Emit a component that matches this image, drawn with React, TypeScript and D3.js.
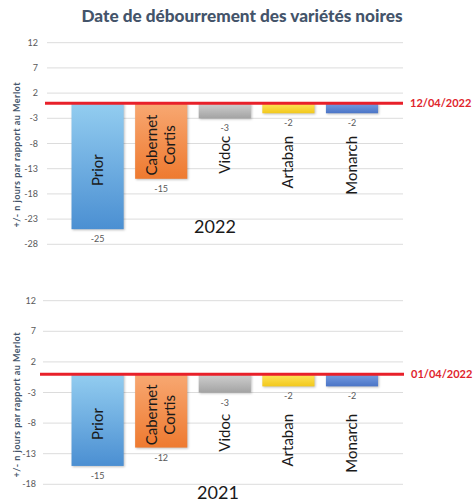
import React from "react";
import * as d3 from "d3";

const title = "Date de débourrement des variétés noires";
const yAxisTitle = "+/- n jours par rapport au Merlot";
const categories = ["Prior", "Cabernet Cortis", "Vidoc", "Artaban", "Monarch"];
const values2022 = [-25, -15, -3, -2, -2];
const values2021 = [-15, -12, -3, -2, -2];
const ticks2022 = [12, 7, 2, -3, -8, -13, -18, -23, -28];
const ticks2021 = [12, 7, 2, -3, -8, -13, -18];
const refDate2022 = "12/04/2022";
const refDate2021 = "01/04/2022";
const year2022 = "2022";
const year2021 = "2021";

const barColors = [
  ["#93cdf0", "#4b8fd2"],
  ["#f8a872", "#ee7a30"],
  ["#d0d0d0", "#a3a3a3"],
  ["#ffe55a", "#f2c81c"],
  ["#779ee2", "#4a74c6"],
];

const labelFont = "Lato, 'Open Sans', sans-serif";

type PanelProps = {
  id: string;
  values: number[];
  ticks: number[];
  top: number;
  bottom: number;
  gridX0: number;
  tickX: number;
  redX0: number;
  redX1: number;
  refDate: string;
  year: string;
  yearX: number;
  yearY: number;
  yearSize: number;
  axisMid: number;
};

function Panel(p: PanelProps) {
  const y = d3
    .scaleLinear()
    .domain([d3.min(p.ticks)!, d3.max(p.ticks)!])
    .range([p.bottom, p.top]);
  const x = d3
    .scaleBand<string>()
    .domain(categories)
    .range([65.8, 383.8])
    .paddingInner(0.18)
    .paddingOuter(0.09);
  const gridX1 = 403;
  const y0 = y(0);
  return (
    <g>
      <defs>
        {barColors.map((c, i) => (
          <linearGradient key={i} id={`${p.id}-g${i}`} x1="0" y1="0" x2="0" y2="1">
            <stop offset="0" stopColor={c[0]} />
            <stop offset="1" stopColor={c[1]} />
          </linearGradient>
        ))}
      </defs>
      {p.ticks.map((t) => (
        <g key={t}>
          <line x1={p.gridX0} x2={gridX1} y1={y(t)} y2={y(t)} stroke="#dcdcdc" strokeWidth={1} />
          <text
            x={p.tickX}
            y={y(t)}
            dy="0.35em"
            textAnchor="end"
            fontSize={9}
            fill="#595959"
            fontFamily={labelFont}
          >
            {t}
          </text>
        </g>
      ))}
      <text
        transform={`translate(20,${p.axisMid}) rotate(-90)`}
        textAnchor="middle"
        fontSize={9}
        fontWeight="bold"
        fill="#44546a"
        fontFamily={labelFont}
        textLength={145}
      >
        {yAxisTitle}
      </text>
      {categories.map((c, i) => {
        const v = p.values[i];
        const bx = x(c)!;
        const bw = x.bandwidth();
        const cx = bx + bw / 2;
        const yb = y(v);
        const lines = c.split(" ");
        const long = v <= -10;
        const lineH = 18;
        return (
          <g key={c}>
            <rect
              x={bx}
              y={y0}
              width={bw}
              height={yb - y0}
              fill={`url(#${p.id}-g${i})`}
              style={{ filter: "drop-shadow(1px 1px 1px rgba(0,0,0,0.25))" }}
            />
            <text
              x={cx}
              y={yb + 13}
              textAnchor="middle"
              fontSize={9}
              fill="#595959"
              fontFamily={labelFont}
            >
              {v}
            </text>
            {long ? (
              <text
                transform={`translate(${cx},${(y0 + yb) / 2 + 4}) rotate(-90)`}
                textAnchor="middle"
                fontSize={15}
                fill="#1a1a1a"
                fontFamily={labelFont}
              >
                {lines.map((l, k) => (
                  <tspan
                    key={k}
                    x={0}
                    y={(k - (lines.length - 1) / 2) * lineH + 5}
                  >
                    {l}
                  </tspan>
                ))}
              </text>
            ) : (
              <text
                transform={`translate(${cx + 5},${y(-6.5)}) rotate(-90)`}
                textAnchor="end"
                fontSize={15}
                fill="#1a1a1a"
                fontFamily={labelFont}
              >
                {c}
              </text>
            )}
          </g>
        );
      })}
      <line x1={p.redX0} x2={p.redX1} y1={y0} y2={y0} stroke="#e8202a" strokeWidth={3} />
      <text
        x={p.redX1 + 7}
        y={y0}
        dy="0.35em"
        fontSize={11}
        fontWeight="bold"
        fill="#e0242c"
        fontFamily={labelFont}
      >
        {p.refDate}
      </text>
      <text
        x={p.yearX}
        y={p.yearY}
        textAnchor="middle"
        fontSize={p.yearSize}
        fill="#1a1a1a"
        fontFamily={labelFont}
      >
        {p.year}
      </text>
    </g>
  );
}

export default function App() {
  return (
    <svg
      width={474}
      height={502}
      style={{ position: "absolute", left: 0, top: 0, background: "#fff" }}
    >
      <text
        x={242}
        y={22}
        textAnchor="middle"
        fontSize={16}
        fontWeight={900}
        fill="#44546a"
        fontFamily={labelFont}
        textLength={321}
        lengthAdjust="spacingAndGlyphs"
      >
        {title}
      </text>
      <Panel
        id="p22"
        values={values2022}
        ticks={ticks2022}
        top={42.7}
        bottom={244.3}
        gridX0={47}
        tickX={38}
        redX0={45}
        redX1={403}
        refDate={refDate2022}
        year={year2022}
        yearX={215}
        yearY={233}
        yearSize={18}
        axisMid={155}
      />
      <Panel
        id="p21"
        values={values2021}
        ticks={ticks2021}
        top={300.7}
        bottom={484.3}
        gridX0={43}
        tickX={36}
        redX0={40}
        redX1={404}
        refDate={refDate2021}
        year={year2021}
        yearX={218}
        yearY={499}
        yearSize={18}
        axisMid={405}
      />
    </svg>
  );
}
